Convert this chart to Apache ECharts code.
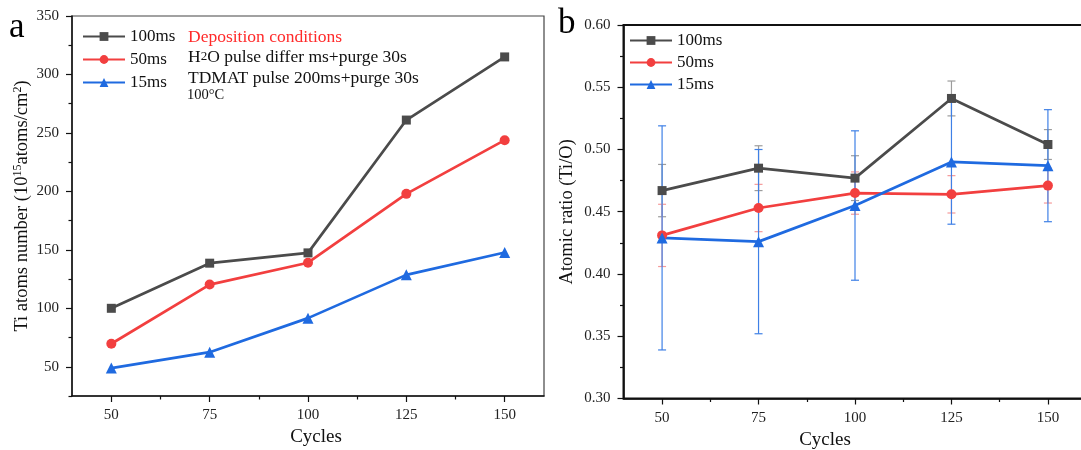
<!DOCTYPE html>
<html>
<head>
<meta charset="utf-8">
<script src="https://cdn.jsdelivr.net/npm/echarts@6/dist/echarts.min.js"></script>
<style>
  html, body { margin: 0; padding: 0; background: #fff; }
  #chart { width: 1081px; height: 450px; }
</style>
</head>
<body>
<div id="chart"></div>
<script>
// data
const cycles = [50, 75, 100, 125, 150]
const seriesNames = ['100ms', '50ms', '15ms']

// panel a: Ti atoms number (10^15 atoms/cm^2)
const atoms100 = [100, 138.6, 147.4, 261, 315]
const atoms50 = [69.7, 120.3, 139, 197.9, 243.8]
const atoms15 = [48.9, 62.5, 91.6, 128.6, 147.7]

// panel b: atomic ratio Ti/O with error bars (+/-)
const ratio100 = [0.467, 0.485, 0.477, 0.541, 0.504]
const ratio50 = [0.431, 0.453, 0.465, 0.464, 0.471]
const ratio15 = [0.429, 0.426, 0.455, 0.490, 0.487]
const err100 = [0.021, 0.018, 0.018, 0.014, 0.012]
const err50 = [0.025, 0.019, 0.017, 0.015, 0.014]
const err15 = [0.090, 0.074, 0.060, 0.050, 0.045]

// tick values
const cycleTicks = [50, 75, 100, 125, 150]
const cycleMinor = [62.5, 87.5, 112.5, 137.5]
const atomTicks = [50, 100, 150, 200, 250, 300, 350]
const atomMinor = [25, 75, 125, 175, 225, 275, 325]
const ratioTicks = [0.30, 0.35, 0.40, 0.45, 0.50, 0.55, 0.60]
const ratioMinor = [0.325, 0.375, 0.425, 0.475, 0.525, 0.575]

const colors = ['#4b4b4b', '#f23f3f', '#1f6ae0']
const barColors = ['#9c9c9c', '#f59a9a', '#3f80e6']
const symbols = ['rect', 'circle', 'triangle']
const symbolSizes = [9, 10, 11]
const FONT = 'Liberation Serif'

const chart = echarts.init(document.getElementById('chart'))

function xAxisPair(gridIndex, nameOpt) {
	return [
		{
			type: 'value', gridIndex, min: 40, max: 160,
			name: 'Cycles', nameLocation: 'middle', nameGap: 30,
			nameTextStyle: Object.assign({ fontFamily: FONT, fontSize: 19, color: '#111' }, nameOpt),
			axisLine: { lineStyle: { color: '#111', width: 1.5 } },
			axisTick: { customValues: cycleTicks, length: 6, lineStyle: { color: '#111', width: 1.2 } },
			axisLabel: { customValues: cycleTicks, margin: 12, fontFamily: FONT, fontSize: 15, color: '#222' },
			splitLine: { show: false },
		},
		{
			type: 'value', gridIndex, min: 40, max: 160, position: 'bottom',
			axisLine: { show: false },
			axisTick: { customValues: cycleMinor, length: 3.5, lineStyle: { color: '#111', width: 1.2 } },
			axisLabel: { show: false },
			splitLine: { show: false },
		},
	]
}

function yAxisPair(gridIndex, min, max, ticks, minor, name, nameGap, fmt) {
	return [
		{
			type: 'value', gridIndex, min, max,
			name, nameLocation: 'middle', nameGap, nameRotate: 90,
			nameTextStyle: {
				fontFamily: FONT, fontSize: 18.5, color: '#111',
				rich: {
					t: { fontFamily: FONT, fontSize: 18.5, color: '#111' },
					sup: { fontFamily: FONT, fontSize: 12, color: '#111', verticalAlign: 'top', padding: [0, 0, 8, 0] },
				},
			},
			axisLine: { lineStyle: { color: '#111', width: 1.5 } },
			axisTick: { customValues: ticks, length: 6, lineStyle: { color: '#111', width: 1.2 } },
			axisLabel: { customValues: ticks, margin: 13, fontFamily: FONT, fontSize: 15, color: '#222', formatter: fmt },
			splitLine: { show: false },
		},
		{
			type: 'value', gridIndex, min, max, position: 'left',
			axisLine: { show: false },
			axisTick: { customValues: minor, length: 3.5, lineStyle: { color: '#111', width: 1.2 } },
			axisLabel: { show: false },
			splitLine: { show: false },
		},
	]
}

function lineSeries(i, values, xIdx, yIdx) {
	return {
		name: seriesNames[i],
		type: 'line',
		xAxisIndex: xIdx,
		yAxisIndex: yIdx,
		data: cycles.map((c, k) => [c, values[k]]),
		symbol: symbols[i],
		symbolSize: symbolSizes[i],
		itemStyle: { color: colors[i] },
		lineStyle: { color: colors[i], width: 2.7 },
		z: 3,
	}
}

function errorSeries(i, values, errs) {
	return {
		type: 'custom',
		xAxisIndex: 2,
		yAxisIndex: 2,
		z: 2,
		data: cycles.map((c, k) => [c, values[k] - errs[k], values[k] + errs[k]]),
		encode: { x: 0, y: [1, 2] },
		renderItem(params, api) {
			const x = api.value(0)
			const lo = api.coord([x, api.value(1)])
			const hi = api.coord([x, api.value(2)])
			const w = 4
			const style = { stroke: barColors[i], lineWidth: 1.2 }
			return {
				type: 'group',
				children: [
					{ type: 'line', shape: { x1: lo[0], y1: lo[1], x2: hi[0], y2: hi[1] }, style },
					{ type: 'line', shape: { x1: hi[0] - w, y1: hi[1], x2: hi[0] + w, y2: hi[1] }, style },
					{ type: 'line', shape: { x1: lo[0] - w, y1: lo[1], x2: lo[0] + w, y2: lo[1] }, style },
				],
			}
		},
	}
}

const legendStyle = {
	orient: 'vertical',
	data: seriesNames,
	padding: 0,
	itemWidth: 42,
	itemHeight: 11,
	textStyle: { fontFamily: FONT, fontSize: 17, color: '#111' },
}

const option = {
	animation: false,
	backgroundColor: '#fff',
	grid: [
		{ left: 72, top: 16, width: 472, height: 380, outerBoundsMode: 'none', show: true, borderColor: '#444', borderWidth: 1.2 },
		{ left: 623.5, top: 25, width: 463, height: 373.5, outerBoundsMode: 'none', show: true, borderColor: '#111', borderWidth: 2 },
	],
	xAxis: [
		...xAxisPair(0, { padding: [0, 0, 0, 16] }),
		...xAxisPair(1, { padding: [0, 60, 0, 0] }),
	],
	yAxis: [
		...yAxisPair(0, 25, 350, atomTicks, atomMinor,
			'{t|Ti atoms number (10}{sup|15}{t|atoms/cm}{sup|2}{t|)}', 40, v => v),
		...yAxisPair(1, 0.3, 0.6, ratioTicks, ratioMinor,
			'Atomic ratio (Ti/O)', 47, v => v.toFixed(2)),
	],
	legend: [
		Object.assign({ left: 82, top: 28, itemGap: 6 }, legendStyle),
		Object.assign({ left: 629, top: 32, itemGap: 5 }, legendStyle),
	],
	graphic: [
		{ type: 'text', left: 9, top: 10, style: { text: 'a', font: '35px "Liberation Serif"', fill: '#000' } },
		{ type: 'text', left: 558, top: 6, style: { text: 'b', font: '35px "Liberation Serif"', fill: '#000' } },
		{ type: 'text', left: 188, top: 28, style: { text: 'Deposition conditions', font: '17.5px "Liberation Serif"', fill: '#ff2a2a' } },
		{
			type: 'text', left: 188, top: 48,
			style: {
				text: '{t|H}{s|2}{t|O pulse differ ms+purge 30s}',
				rich: {
					t: { fontFamily: FONT, fontSize: 17.5, fill: '#111' },
					s: { fontFamily: FONT, fontSize: 13, fill: '#111' },
				},
			},
		},
		{ type: 'text', left: 188, top: 69, style: { text: 'TDMAT pulse 200ms+purge 30s', font: '17.5px "Liberation Serif"', fill: '#111' } },
		{ type: 'text', left: 187, top: 88, style: { text: '100\u00b0C', font: '14.5px "Liberation Serif"', fill: '#111' } },
	],
	series: [
		lineSeries(0, atoms100, 0, 0),
		lineSeries(1, atoms50, 0, 0),
		lineSeries(2, atoms15, 0, 0),
		errorSeries(0, ratio100, err100),
		errorSeries(1, ratio50, err50),
		errorSeries(2, ratio15, err15),
		lineSeries(0, ratio100, 2, 2),
		lineSeries(1, ratio50, 2, 2),
		lineSeries(2, ratio15, 2, 2),
	],
}

chart.setOption(option)
</script>
</body>
</html>
